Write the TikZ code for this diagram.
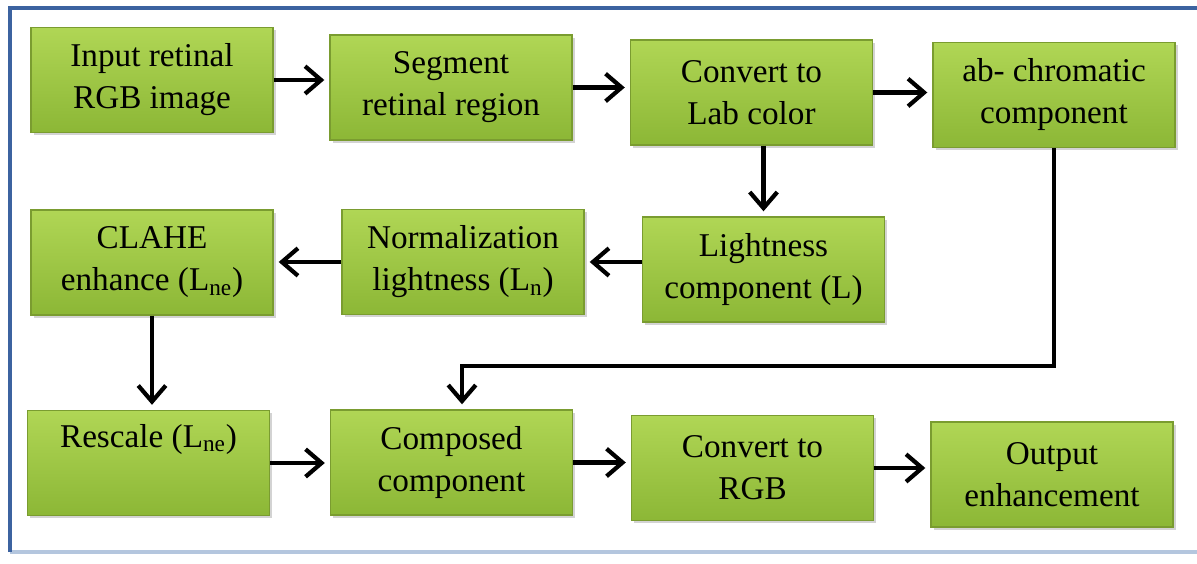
\documentclass[tikz,border=0pt]{standalone}
\usepackage{fontspec}
\setmainfont{Liberation Serif}
\usetikzlibrary{arrows.meta,positioning,calc,shadows}
\definecolor{FrameBlue}{HTML}{3C63A0}
\definecolor{FrameSoft}{HTML}{B4C6DE}
\definecolor{LeafTop}{HTML}{B0D655}
\definecolor{LeafBot}{HTML}{8CB736}
\definecolor{LeafEdge}{HTML}{7A9C30}
\tikzset{
  stage/.style={rectangle,draw=LeafEdge,line width=0.8pt,top color=LeafTop,bottom color=LeafBot,minimum width=4.84cm,minimum height=2.1cm,inner sep=0pt,align=center,font=\fontsize{18.9}{23.9}\selectfont,drop shadow={opacity=0.35,shadow xshift=1.5pt,shadow yshift=-1.5pt}},
  arrow/.style={-{Straight Barb[length=3.2mm,width=5.5mm]},line width=2.4pt,shorten >=1mm},
  frameline/.style={line width=1.8pt}
}

\begin{document}
\begin{tikzpicture}
  \useasboundingbox (0,0) rectangle (23.94,11.26);
  % frame
  \draw[FrameSoft,frameline] (0.2,0.22) -- (24.2,0.22);
  \draw[FrameBlue,frameline] (0.2,0.22) -- (0.2,11.1) -- (24.2,11.1);
  % first row
  \node[stage] (inp) at (3.04,9.66) {Input retinal\\RGB image};
  \node[stage] (seg) at (9.02,9.51) {Segment\\retinal region};
  \node[stage] (lab) at (15.03,9.41) {Convert to\\Lab color};
  \node[stage] (ab) at (21.08,9.36) {ab- chromatic\\component};
  % second row
  \node[stage] (clahe) at (3.04,6.01) {CLAHE\\enhance (L\textsubscript{ne})};
  \node[stage] (norm) at (9.26,6.02) {Normalization\\lightness (L\textsubscript{n})};
  \node[stage] (light) at (15.27,5.87) {Lightness\\component (L)};
  % third row
  \node[stage] (resc) at (2.97,2.0) {Rescale (L\textsubscript{ne})\\\strut};
  \node[stage] (comp) at (9.03,2.01) {Composed\\component};
  \node[stage] (rgb) at (15.05,1.9) {Convert to\\RGB};
  \node[stage] (outp) at (21.04,1.77) {Output\\enhancement};
  % connectors
  \draw[arrow] (inp.east) -- (inp.east -| seg.west);
  \draw[arrow] (seg.east) -- (seg.east -| lab.west);
  \draw[arrow] (lab.east) -- (lab.east -| ab.west);
  \draw[arrow] (light.north |- lab.south) -- (light.north);
  \draw[arrow] (norm.east -| light.west) -- (norm.east);
  \draw[arrow] (norm.west) -- (norm.west -| clahe.east);
  \draw[arrow] (clahe.south) -- (clahe.south |- resc.north);
  \draw[arrow] (ab.south) -- ++(0,-4.35) -| ([xshift=0.21cm]comp.north);
  \draw[arrow] (resc.east) -- (resc.east -| comp.west);
  \draw[arrow] (comp.east) -- (comp.east -| rgb.west);
  \draw[arrow] (rgb.east) -- (rgb.east -| outp.west);
\end{tikzpicture}
\end{document}
